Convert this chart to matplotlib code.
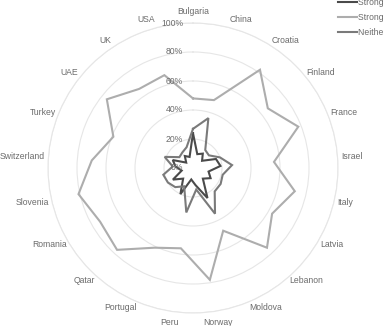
import numpy as np
import matplotlib
matplotlib.use("Agg")
import matplotlib.pyplot as plt

plt.rcParams['font.family'] = ['Liberation Sans', 'DejaVu Sans']

categories = ["Bulgaria", "China", "Croatia", "Finland", "France", "Israel", "Italy",
              "Latvia", "Lebanon", "Moldova", "Norway", "Peru", "Portugal", "Qatar",
              "Romania", "Slovenia", "Switzerland", "Turkey", "UAE", "UK", "USA"]

strongly_disagree = [24, 10, 12, 8, 17, 19, 11, 14, 10, 23, 12, 8, 20, 10, 16, 8, 12, 15, 6, 10, 8]
strongly_agree = [48, 49, 82, 66, 78, 56, 72, 63, 75, 48, 78, 56, 61, 77, 74, 81, 70, 59, 76, 66, 67]
neither = [27, 36, 15, 14, 20, 27, 21, 22, 22, 35, 15, 31, 14, 18, 20, 21, 14, 21, 12, 13, 15]

series_names = ["Strongly disagree", "Strongly agree", "Neither agree nor disagree"]
series_values = [strongly_disagree, strongly_agree, neither]
series_colors = ["#4a4a4a", "#adadad", "#7a7a7a"]

radial_ticks = [0, 20, 40, 60, 80, 100]
radial_labels = ["0%", "20%", "40%", "60%", "80%", "100%"]

W, H = 384, 326
cx, cy, R = 193, 168, 145
fig = plt.figure(figsize=(W / 100, H / 100), dpi=100)
ax = fig.add_axes([(cx - R) / W, (H - cy - R) / H, 2 * R / W, 2 * R / H], projection='polar')
ax.set_theta_zero_location('N')
ax.set_theta_direction(-1)

n = len(categories)
angles = np.arange(n) * 2 * np.pi / n
lines = []
for name, vals, col in zip(series_names, series_values, series_colors):
    v = list(vals) + [vals[0]]
    a = list(angles) + [angles[0]]
    ln, = ax.plot(a, v, color=col, lw=1.5, label=name, solid_joinstyle='miter')
    lines.append(ln)

ax.set_ylim(0, 100)
ax.set_yticks(radial_ticks[1:])
ax.set_yticklabels([])
ax.set_xticks(angles)
ax.set_xticklabels([])
ax.xaxis.grid(False)
ax.yaxis.grid(True, color='#e6e6e6', lw=0.8)
ax.spines['polar'].set_color('#e6e6e6')
ax.spines['polar'].set_linewidth(0.8)
ax.tick_params(length=0)
ax.set_facecolor('none')

txtcol = '#6b6b6b'
fs = 6.2
# radial labels along the top axis
for t, lab in zip(radial_ticks, radial_labels):
    ax.annotate(lab, xy=(0, t), xytext=(-10, 0), textcoords='offset pixels',
                ha='right', va='center', fontsize=fs, color=txtcol, annotation_clip=False)

# category labels
anns = []
for ang, lab in zip(angles, categories):
    a = ax.annotate(lab, xy=(ang, 100), xytext=(0, 0), textcoords='offset pixels',
                    ha='center', va='center', fontsize=fs, color=txtcol, annotation_clip=False)
    anns.append((ang, a))

fig.canvas.draw()
r = fig.canvas.get_renderer()
gap = 3.5
for ang, a in anns:
    bb = a.get_window_extent(r)
    w, h = bb.width, bb.height
    s, c = np.sin(ang), np.cos(ang)
    g = gap + 3 * abs(c) ** 4
    dx = s * g + s * w / 2
    dy = c * g + c * h / 2
    a.xyann = (dx, dy)

fig.legend(handles=lines, labels=series_names, loc='upper left',
           bbox_to_anchor=(330 / W, 1 + 10 / H), frameon=False, fontsize=fs,
           handlelength=2.2, handletextpad=0.2, labelspacing=0.72, borderpad=0.4,
           labelcolor=txtcol)

fig.savefig('out.png', dpi=100)
